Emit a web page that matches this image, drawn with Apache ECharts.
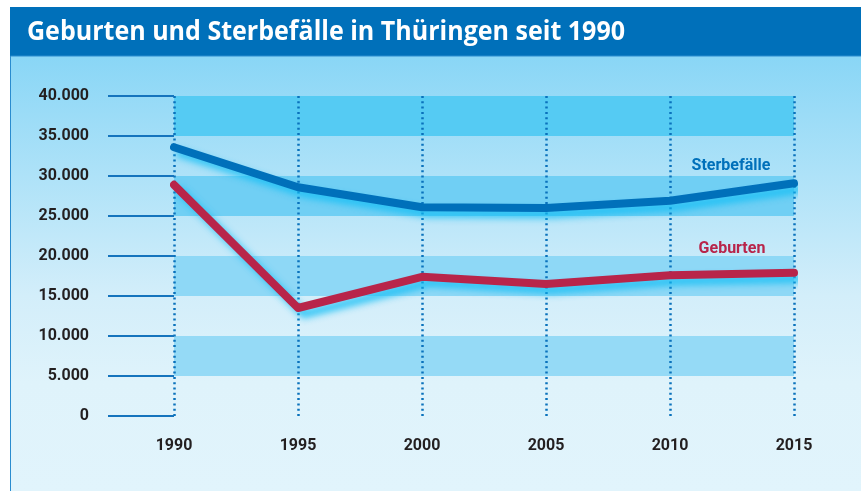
<!DOCTYPE html>
<html><head><meta charset="utf-8">
<script src="https://cdn.jsdelivr.net/npm/echarts@6/dist/echarts.min.js"></script>
<style>html,body{margin:0;padding:0;background:#fff}#c{width:861px;height:491px}</style>
</head><body><div id="c"></div>
<script>
const titleText = 'Geburten und Sterbefälle in Thüringen seit 1990';
const years = ['1990', '1995', '2000', '2005', '2010', '2015'];
const sterbefaelle = [33600, 28600, 26100, 26000, 26900, 29100];
const geburten = [28900, 13500, 17400, 16500, 17600, 17900];
const seriesNames = ['Sterbefälle', 'Geburten'];
const yMin = 0, yMax = 40000, yStep = 5000;

function fmt(v) { return v === 0 ? '0' : (v / 1000) + '.000'; }

const titleFont = 'bold 26px "Open Sans"';
const cv = document.createElement('canvas').getContext('2d');
cv.font = titleFont;
const titleW = cv.measureText(titleText).width;
const titleScale = 598 / titleW;

const chart = echarts.init(document.getElementById('c'), null, {renderer: 'canvas'});
const lineBase = {
  width: 8, cap: 'round', join: 'round',
  shadowColor: 'rgba(20,190,245,0.85)', shadowBlur: 7, shadowOffsetX: 6, shadowOffsetY: 6
};
chart.setOption({
  animation: false,
  graphic: [
    {type: 'rect', z: -10, shape: {x: 10, y: 7, width: 851, height: 49}, style: {fill: '#0070BA'}},
    {type: 'rect', z: -10, shape: {x: 10.5, y: 56, width: 851, height: 436},
     style: {fill: new echarts.graphic.LinearGradient(0, 0, 0, 1, [
       {offset: 0, color: '#89D6F6'}, {offset: 0.55, color: '#D3EEFA'}, {offset: 0.75, color: '#DFF3FB'}, {offset: 1, color: '#E1F4FC'}
     ]), stroke: '#2A8CCF', lineWidth: 1}},
    {type: 'text', z: 10, x: 27, y: 33, scaleX: titleScale, originX: 0,
     style: {text: titleText, fill: '#ffffff', font: titleFont, textAlign: 'left', textVerticalAlign: 'middle'}}
  ],
  grid: {left: 174, right: 67, top: 96, bottom: 75},
  xAxis: {
    type: 'category', boundaryGap: false, data: years,
    axisLine: {show: false}, axisTick: {show: false},
    axisLabel: {margin: 22, color: '#231F20', fontWeight: 'bold', fontSize: 16, fontFamily: 'Roboto'},
    splitLine: {show: true, lineStyle: {type: [2, 3.3], color: '#0A72BC', width: 2.5}}
  },
  yAxis: {
    type: 'value', min: yMin, max: yMax, interval: yStep,
    axisLine: {show: false},
    axisTick: {show: true, length: 66, lineStyle: {color: '#1574BD', width: 2}},
    axisLabel: {margin: 85, color: '#231F20', fontWeight: 'bold', fontSize: 16, fontFamily: 'Roboto', formatter: fmt},
    splitLine: {show: false},
    splitArea: {show: true, areaStyle: {color: ['rgba(0,0,0,0)', '#95DAF6', 'rgba(0,0,0,0)', '#8ED8F6', 'rgba(0,0,0,0)', '#70CFF4', 'rgba(0,0,0,0)', '#55CBF3']}}
  },
  series: [
    {name: seriesNames[0], type: 'line', data: sterbefaelle, symbol: 'none', z: 3,
     lineStyle: Object.assign({color: '#0070BA'}, lineBase),
     markPoint: {symbol: 'circle', symbolSize: 0, silent: true,
       data: [{coord: [years.length - 1, sterbefaelle[sterbefaelle.length - 1]],
         label: {show: true, formatter: seriesNames[0], offset: [-63, -17], color: '#0070BA', fontWeight: 'bold', fontSize: 16, fontFamily: 'Roboto'}}]}},
    {name: seriesNames[1], type: 'line', data: geburten, symbol: 'none', z: 2,
     lineStyle: Object.assign({color: '#B8254A'}, lineBase),
     markPoint: {symbol: 'circle', symbolSize: 0, silent: true,
       data: [{coord: [years.length - 1, geburten[geburten.length - 1]],
         label: {show: true, formatter: seriesNames[1], offset: [-62, -24], color: '#B8254A', fontWeight: 'bold', fontSize: 16, fontFamily: 'Roboto'}}]}}
  ]
});
</script></body></html>
